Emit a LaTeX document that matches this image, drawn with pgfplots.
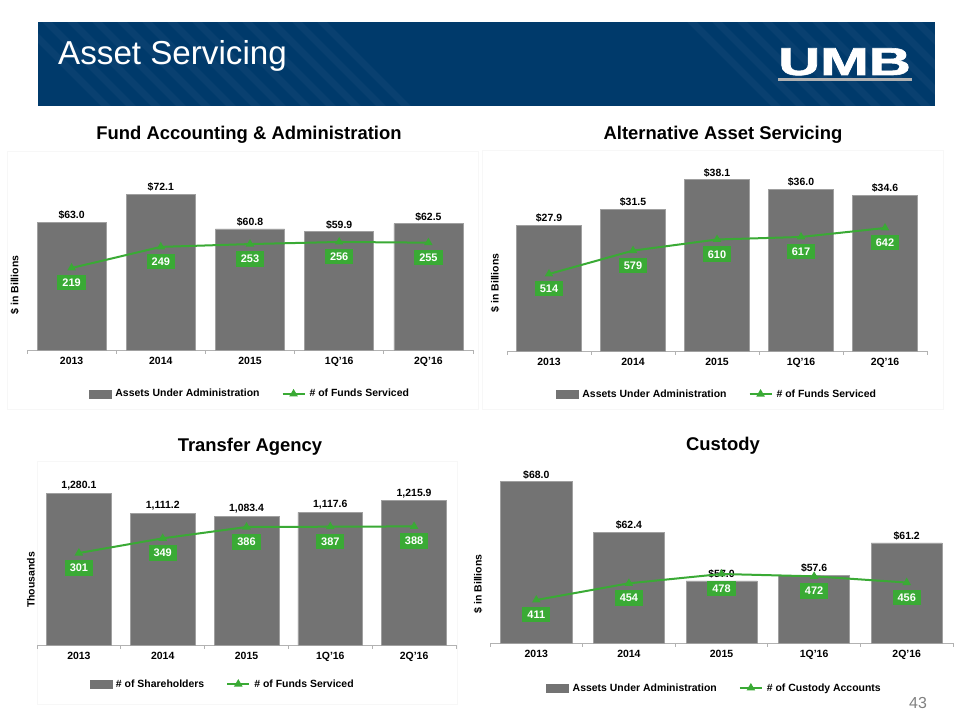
\documentclass[border=0pt]{standalone}
\usepackage{pgfplots}
\pgfplotsset{compat=1.18}
\usepackage{fontspec}
\setmainfont{Liberation Sans}
\newfontfamily\logofont[BoldFeatures={FakeBold=1.5}]{Liberation Sans}
\definecolor{barGray}{HTML}{737373}
\definecolor{barEdge}{HTML}{A0A0A0}
\definecolor{grn}{HTML}{3AAA35}
\definecolor{navy}{HTML}{003A6B}
\pgfplotsset{
  common/.style={scale only axis, anchor=south west, xmin=-0.5, xmax=4.5, clip=false},
  barax/.style={common,
    axis y line=none, axis x line*=bottom,
    axis line style={-, draw=gray!60, line width=0.8bp},
    xtick={0,1,2,3,4}, xticklabels={2013,2014,2015,1Q'16,2Q'16},
    minor xtick={-0.5,0.5,1.5,2.5,3.5,4.5},
    major tick length=0pt, minor tick length=4bp, tick align=outside,
    every minor tick/.append style={draw=gray!60, line width=0.8bp},
    xticklabel style={font=\bfseries\fontsize{10.5}{12}\selectfont, yshift=-4bp},
    ybar, bar shift=0pt,
    nodes near coords, point meta=explicit symbolic,
    every node near coord/.append style={font=\bfseries\fontsize{10.5}{12}\selectfont, black, inner sep=2.5bp},
  },
  lineax/.style={common, hide axis,
    nodes near coords, point meta=explicit symbolic,
    every node near coord/.append style={anchor=north, yshift=-6bp, fill=grn, text=white,
      font=\bfseries\fontsize{11}{12}\selectfont, inner xsep=5bp, inner ysep=0pt, minimum height=15.5bp, text depth=0pt},
    legend columns=2,
    legend style={draw=none, fill=none, font=\bfseries\fontsize{10.5}{12}\selectfont, inner sep=0pt,
      /tikz/every even column/.append style={column sep=20bp},
      /tikz/every odd column/.append style={column sep=2bp}},
  },
  barleg/.style={legend image code/.code={\fill[barGray] (0bp,-4bp) rectangle (22bp,4bp);}},
  lineleg/.style={legend image code/.code={\draw[grn, line width=2bp, mark=triangle*, mark size=3bp, mark repeat=2, mark phase=2, mark options={fill=grn}] plot coordinates {(0bp,0bp) (11bp,0bp) (22bp,0bp)};}},
  lineplot/.style={grn, line width=2bp, mark=triangle*, mark size=3bp, mark options={fill=grn, solid}},
  barplot/.style={fill=barGray, draw=barEdge, line width=0.6bp},
}
\begin{document}
\begin{tikzpicture}[x=1bp,y=1bp]
\useasboundingbox (0,0) rectangle (960,720);
\fill[white] (0,0) rectangle (960,720);
% banner
\fill[navy] (38,614) rectangle (935,698);
\begin{scope}
\clip (38,614) rectangle (935,698);
\foreach \s in {20,45,...,320} {\draw[white, opacity=0.035, line width=7bp] (\s,700) -- ++(90,-90);}
\foreach \s in {690,715,...,940} {\draw[white, opacity=0.035, line width=7bp] (\s,700) -- ++(90,-90);}
\end{scope}
\node[anchor=base west, white, inner sep=0pt, font=\fontsize{33.3}{35}\selectfont] at (58,655) {Asset Servicing};
\node[anchor=base west, white, inner sep=0pt] at (778,645) {\scalebox{1.5}[1]{\logofont\bfseries\fontsize{39}{40}\selectfont UMB}};
\fill[gray!60] (778,639) rectangle (912,642);
% faint frames
\draw[gray!6, line width=1bp] (7,310) rectangle (478,568);
\draw[gray!6, line width=1bp] (482,310) rectangle (943,569);
\draw[gray!6, line width=1bp] (37,15) rectangle (457,258);
% titles
\node[font=\bfseries\fontsize{18.5}{20}\selectfont] at (249,585) {Fund Accounting \& Administration};
\node[font=\bfseries\fontsize{18.5}{20}\selectfont] at (723,585) {Alternative Asset Servicing};
\node[font=\bfseries\fontsize{18.5}{20}\selectfont] at (250,273) {Transfer Agency};
\node[font=\bfseries\fontsize{18.5}{20}\selectfont] at (723,274) {Custody};
% y labels
\node[rotate=90, font=\bfseries\fontsize{10.5}{12}\selectfont] at (15,435) {\$ in Billions};
\node[rotate=90, font=\bfseries\fontsize{10.5}{12}\selectfont] at (495,437) {\$ in Billions};
\node[rotate=90, font=\bfseries\fontsize{10.5}{12}\selectfont] at (31,140) {Thousands};
\node[rotate=90, font=\bfseries\fontsize{10.5}{12}\selectfont] at (478,136) {\$ in Billions};
% page number
\node[gray, font=\fontsize{16}{18}\selectfont] at (918,17) {43};

% ---------- Panel 1 ----------
\begin{axis}[barax, at={(27bp,370bp)}, width=446bp, height=175bp, ymin=21.5, ymax=78.3, bar width=0.774]
\addplot[barplot] coordinates {(0,63.0)[\$63.0] (1,72.1)[\$72.1] (2,60.8)[\$60.8] (3,59.9)[\$59.9] (4,62.5)[\$62.5]};
\end{axis}
\begin{axis}[lineax, at={(27bp,370bp)}, width=446bp, height=175bp, ymin=102.3, ymax=351.3,
  legend style={at={(0.5,-0.251)}, anchor=center}]
\addlegendimage{barleg}
\addlegendentry{Assets Under Administration}
\addplot[lineplot, lineleg] coordinates {(0,219)[219] (1,249)[249] (2,253)[253] (3,256)[256] (4,255)[255]};
\addlegendentry{\# of Funds Serviced}
\end{axis}

% ---------- Panel 2 ----------
\begin{axis}[barax, at={(507bp,369bp)}, width=420bp, height=175bp, ymin=0, ymax=38.9, bar width=0.774]
\addplot[barplot] coordinates {(0,27.9)[\$27.9] (1,31.5)[\$31.5] (2,38.1)[\$38.1] (3,36.0)[\$36.0] (4,34.6)[\$34.6]};
\end{axis}
\begin{axis}[lineax, at={(507bp,369bp)}, width=420bp, height=175bp, ymin=299.7, ymax=786.7,
  legend style={at={(0.5,-0.246)}, anchor=center}]
\addlegendimage{barleg}
\addlegendentry{Assets Under Administration}
\addplot[lineplot, lineleg] coordinates {(0,514)[514] (1,579)[579] (2,610)[610] (3,617)[617] (4,642)[642]};
\addlegendentry{\# of Funds Serviced}
\end{axis}

% ---------- Panel 3 ----------
\begin{axis}[barax, at={(37bp,75bp)}, width=419bp, height=180bp, ymin=0, ymax=1516, bar width=0.774]
\addplot[barplot] coordinates {(0,1280.1)[{1,280.1}] (1,1111.2)[{1,111.2}] (2,1083.4)[{1,083.4}] (3,1117.6)[{1,117.6}] (4,1215.9)[{1,215.9}]};
\end{axis}
\begin{axis}[lineax, at={(37bp,75bp)}, width=419bp, height=180bp, ymin=0.2, ymax=588.8,
  legend style={at={(0.443,-0.217)}, anchor=center}]
\addlegendimage{barleg}
\addlegendentry{\# of Shareholders}
\addplot[lineplot, lineleg] coordinates {(0,301)[301] (1,349)[349] (2,386)[386] (3,387)[387] (4,388)[388]};
\addlegendentry{\# of Funds Serviced}
\end{axis}

% ---------- Panel 4 ----------
\begin{axis}[barax, at={(490bp,77bp)}, width=463bp, height=173bp, ymin=50.1, ymax=69.3, bar width=0.767]
\addplot[barplot] coordinates {(0,68.0)[\$68.0] (1,62.4)[\$62.4] (2,57.0)[\$57.0] (3,57.6)[\$57.6] (4,61.2)[\$61.2]};
\end{axis}
\begin{axis}[lineax, at={(490bp,77bp)}, width=463bp, height=173bp, ymin=300.2, ymax=746,
  legend style={at={(0.485,-0.26)}, anchor=center}]
\addlegendimage{barleg}
\addlegendentry{Assets Under Administration}
\addplot[lineplot, lineleg] coordinates {(0,411)[411] (1,454)[454] (2,478)[478] (3,472)[472] (4,456)[456]};
\addlegendentry{\# of Custody Accounts}
\end{axis}
\end{tikzpicture}
\end{document}
